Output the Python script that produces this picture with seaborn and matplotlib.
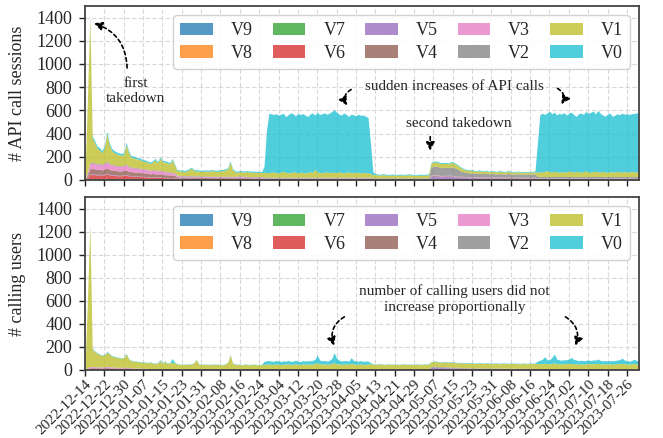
import matplotlib
matplotlib.use("Agg")
import matplotlib.pyplot as plt
import matplotlib.dates as mdates
import pandas as pd
import seaborn as sns

start_date = "2022-12-14"
last_tick_date = "2023-07-26"
n_days = 230
versions = ["V9", "V8", "V7", "V6", "V5", "V4", "V3", "V2", "V1", "V0"]

# ---------------- daily API call sessions (one value per day) ----------------
sess_v9 = [0,1,3,3,3,2,3,2,3,3, 2,2,3,2,2,2,3,2,2,2, 2,1,2,2,1,2,1,1,2,1, 1,2,1,1,1,1,1,1,1,1,
           1,0,1,1,1,0,1,1,1,1, 0,1,1,1,0,1,1,1,1,0, 1,1,1,1,0,1,1,1,1,1, 0,1,1,1,1,1,1,2,1,1,
           1,2,1,1,1,1,2,1,1,1, 1,2,1,1,1,1,1,2,1,1, 1,1,2,1,1,1,1,1,2,1, 1,1,1,2,1,1,1,1,2,1,
           1,1,0,1,1,1,1,0,1,1, 1,1,1,0,1,1,1,1,1,0, 1,1,1,1,2,2,2,1,2,2, 1,2,2,1,1,2,1,1,1,1,
           2,1,1,1,1,1,1,1,2,1, 1,1,1,1,1,2,1,1,1,1, 1,1,1,1,1,1,1,1,1,2, 1,1,1,1,1,2,1,1,1,1,
           1,1,2,1,1,1,1,1,1,2, 1,1,1,1,1,1,2,1,1,1, 1,1,2,1,1,1,1,1,2,1]
sess_v8 = [0,2,4,4,4,3,4,3,4,4, 3,3,4,3,3,3,4,3,3,3, 3,2,3,3,2,3,2,2,3,2, 2,3,2,2,2,2,2,2,2,1,
           2,1,1,2,1,1,2,1,1,1, 2,1,1,1,2,1,1,1,2,1, 1,1,2,1,1,1,1,2,1,1, 1,1,2,1,1,1,2,1,1,2,
           1,1,2,1,1,1,2,1,1,1, 2,1,1,1,2,1,1,1,1,2, 1,1,1,2,1,1,1,2,1,1, 1,2,1,1,1,2,1,1,1,1,
           1,1,1,1,1,1,1,1,1,1, 1,1,1,1,1,1,1,1,1,1, 1,1,1,2,3,3,3,2,3,5, 6,4,3,2,2,2,2,2,2,1,
           2,1,1,1,1,1,1,1,1,1, 1,1,1,1,1,1,1,1,1,1, 1,1,1,1,1,1,1,1,1,1, 1,1,1,2,1,1,1,1,2,1,
           1,1,1,1,2,1,1,1,1,1, 2,1,1,1,1,1,2,1,1,1, 1,1,2,1,1,1,1,1,2,1]
sess_v7 = [0,2,5,5,6,5,6,5,6,8, 6,5,5,4,4,5,4,6,5,4, 4,3,4,3,3,3,3,2,3,3, 2,3,2,2,2,2,2,2,2,2,
           2,2,2,2,2,2,2,2,2,2, 2,2,2,2,2,2,2,2,2,3, 3,3,4,6,8,6,4,3,3,2, 2,2,2,2,2,2,2,2,2,2,
           2,2,2,1,2,2,2,2,1,2, 2,2,1,2,2,2,2,2,2,1, 2,2,2,2,1,2,2,2,2,2, 1,2,2,2,2,2,1,2,2,2,
           2,2,1,2,2,2,2,1,2,2, 2,2,2,2,1,2,2,2,2,1, 2,2,2,2,2,3,2,2,2,2, 2,3,2,2,2,2,2,2,2,2,
           2,2,2,2,2,1,2,2,2,2, 2,2,1,2,2,2,2,2,1,2, 2,2,2,2,2,2,2,2,2,2, 2,1,2,2,2,2,1,2,2,2,
           2,2,2,1,2,2,2,2,2,1, 2,2,2,2,2,1,2,2,2,2, 2,2,1,2,2,2,2,2,1,2]
sess_v6 = [5,15,35,35,34,32,33,30,32,36, 33,30,30,28,27,27,28,30,26,25, 24,24,23,22,22,20,20,18,19,18,
           17,18,16,15,15,14,14,13,10,9, 9,8,8,9,8,8,7,8,7,7, 8,7,6,7,6,6,7,6,6,5, 6,6,5,5,5,6,5,5,5,5,
           4,5,5,4,4,3,3,3,3,3, 3,3,3,3,3,3,3,3,3,3, 3,3,3,3,3,3,3,3,3,3, 3,3,3,3,3,3,3,3,3,3,
           3,3,3,3,3,3,3,3,3,2, 2,2,2,2,2,2,2,2,2,2, 2,2,2,2,2,2,2,2,2,2, 2,2,2,4,5,5,5,4,4,4,
           4,4,4,3,3,3,3,3,3,3, 3,3,3,3,3,3,3,3,3,3, 3,3,3,3,3,3,3,3,3,3, 3,3,3,3,3,3,3,2,2,2,
           2,2,2,2,2,2,2,2,2,2, 2,2,2,2,2,2,2,2,2,2, 2,2,2,2,2,2,2,2,2,2, 2,2,2,2,2,2,2,2,2,2]
sess_v5 = [1,3,6,6,6,5,6,5,6,6, 5,5,5,5,5,4,5,5,4,4, 4,4,4,4,4,3,4,3,3,3, 3,3,3,3,3,3,3,3,3,3,
           3,2,3,3,2,3,3,2,3,3, 2,3,3,2,3,3,2,3,3,2, 3,3,2,3,3,2,3,3,2,3, 3,2,3,3,3,3,3,3,3,3,
           3,3,3,3,3,3,3,3,3,3, 3,3,3,3,3,3,3,3,3,3, 3,3,3,3,3,3,3,3,3,3, 3,3,3,3,3,3,3,3,3,2,
           2,2,2,2,2,2,2,2,2,2, 2,2,2,2,2,2,2,2,2,2, 2,2,2,20,22,21,20,19,20,18,
           19,20,18,17,16,15,14,13,14,13, 12,13,12,12,11,12,11,10,11,10, 10,11,10,10,9,10,9,9,10,9,
           9,8,9,9,8,8,9,6,5,6, 5,6,5,5,6,5,5,6,5,5, 6,5,5,6,5,5,5,6,5,5, 5,6,5,5,6,5,5,5,6,5,
           5,5,6,5,5,6,5,5,5,6]
sess_v4 = [2,20,45,45,44,42,43,40,44,48, 44,40,40,38,37,37,38,40,35,34, 33,33,32,30,30,28,28,26,27,26,
           25,26,24,22,22,21,20,18,10,9, 9,9,8,9,9,8,8,8,8,8, 8,7,7,8,7,7,7,7,7,7, 7,6,6,6,7,6,6,6,6,6,
           6,6,6,6,5,4,4,4,4,4, 4,4,4,4,4,4,4,4,4,4, 4,4,4,4,4,4,4,4,4,4, 4,4,4,4,4,4,4,4,4,4,
           4,4,4,4,4,4,4,4,4,3, 3,3,3,3,3,3,3,3,3,3, 3,3,3,3,3,3,3,3,3,3, 3,3,3,6,6,6,6,5,5,5,
           5,5,5,5,5,5,5,5,4,4, 4,4,4,4,4,4,4,4,4,4, 4,4,4,4,4,4,4,4,4,4, 4,4,4,4,4,4,4,3,3,3,
           3,3,3,3,3,3,3,3,3,3, 3,3,3,3,3,3,3,3,3,3, 3,3,3,3,3,3,3,3,3,3, 3,3,3,3,3,3,3,3,3,3]
sess_v3 = [2,20,45,46,45,44,45,42,46,50, 45,42,42,40,40,40,42,45,38,36, 35,34,33,32,31,30,29,28,29,28,
           27,28,26,24,24,22,20,18,10,10, 9,9,9,9,9,8,9,8,8,8, 8,8,8,8,8,8,8,8,8,7, 7,8,7,7,8,7,7,7,7,7,
           7,7,7,7,7,4,4,4,4,4, 4,4,4,4,4,4,4,4,4,4, 4,4,4,4,4,4,4,4,4,4, 4,4,4,4,4,4,4,4,4,4,
           4,4,4,4,4,4,4,4,4,3, 3,3,3,3,3,3,3,3,3,3, 3,3,3,3,3,3,3,3,3,3, 3,3,3,5,5,5,5,5,5,4,
           4,4,4,4,4,4,4,4,4,4, 4,4,4,4,4,4,4,4,4,4, 4,4,4,4,4,4,4,4,4,4, 4,4,4,4,4,4,4,3,3,3,
           3,3,3,3,3,3,3,3,3,3, 3,3,3,3,3,3,3,3,3,3, 3,3,3,3,3,3,3,3,3,3, 3,3,3,3,3,3,3,3,3,3]
sess_v2 = [1,3,7,7,7,6,7,6,7,8, 7,6,6,6,6,6,6,7,6,6, 6,5,5,5,5,5,5,5,5,5, 5,5,5,5,5,5,5,5,5,5,
           5,5,5,5,5,5,5,5,5,5, 5,5,5,5,5,5,5,5,5,5, 5,5,5,5,5,5,5,5,5,5, 5,5,5,5,5,6,6,6,6,6,
           6,6,6,6,6,6,6,6,6,6, 6,6,6,6,6,6,6,6,6,6, 6,6,6,6,6,6,6,6,6,6, 6,6,6,6,6,6,6,6,6,5,
           5,5,5,5,5,5,5,5,5,5, 5,5,5,5,5,5,5,5,5,5, 5,5,5,70,75,74,72,70,68,70,
           66,70,75,68,62,48,42,36,34,32, 34,30,30,32,29,30,32,28,29,30, 27,29,30,27,28,30,28,27,28,29,
           27,27,28,27,28,28,29,13,14,12, 13,12,14,13,12,13,14,12,13,13, 14,13,12,13,14,12,13,13,12,14,
           13,12,13,14,13,12,13,14,13,12, 13,14,12,13,13,12,14,13,12,13]
sess_v1 = [24,624,1250,209,170,135,114,103,131,237, 160,122,101,98,94,90,90,169,118,82,
           80,79,72,71,65,65,57,58,65,88, 66,98,79,79,74,68,107,69,37,38,
           36,35,40,50,65,44,42,41,38,43, 42,40,45,47,40,43,46,48,51,66,
           121,55,39,32,36,33,36,42,36,38, 35,37,35,34,40,40,38,42,45,40,
           36,44,50,42,38,40,46,42,38,44, 40,36,42,48,40,70,45,40,38,42,
           46,40,44,38,42,48,40,36,42,45, 40,38,44,40,36,42,38,40,30,26,
           28,26,23,27,25,22,23,26,23,21, 25,23,22,25,27,23,22,20,23,24,
           21,23,27,32,36,35,34,34,33,35, 32,35,38,34,32,28,25,22,20,20,
           22,18,18,22,18,18,20,16,18,20, 16,18,20,16,17,20,16,15,17,18,
           15,16,17,15,16,17,18,35,40,38, 45,50,42,38,44,40,36,42,38,40,
           46,42,38,44,40,36,42,48,40,36, 42,45,40,38,44,40,36,42,38,40,
           44,40,36,42,38,40,44,38,40,42]
sess_v0 = [5,10,20,20,20,20,18,18,18,20, 20,18,18,18,15,15,15,18,15,15,
           15,14,14,14,13,13,12,12,12,12, 12,12,12,12,12,12,12,10,10,9,
           10,11,10,9,10,10,11,10,9,10, 10,11,10,9,10,10,11,10,12,10,
           11,10,9,10,10,11,10,9,10,10, 11,10,9,10,50,365,512,503,495,507,
           499,499,500,481,502,515,499,488,513,497, 507,499,481,497,513,465,515,500,509,513,
           497,513,521,543,518,497,495,517,498,480, 505,499,486,503,497,493,489,475,265,25,
           8,7,8,9,8,7,8,9,8,7, 8,8,7,8,9,8,7,7,8,9,
           8,8,9,8,8,9,8,8,8,9, 8,8,9,8,8,7,7,7,6,6,
           7,6,6,7,6,6,7,6,6,6, 6,7,6,6,6,7,6,6,6,6,
           6,7,6,6,6,7,8,255,490,507, 490,500,518,502,511,490,509,496,512,490,
           496,513,497,474,500,512,493,512,505,516, 523,495,530,507,486,482,502,503,480,490,
           496,492,509,496,504,495,496,507,508,508]

# ---------------- daily calling users (one value per day) ----------------
users_v9 = [0,1,1,1,1,1,1,1,1,1, 1,1,1,1,1,1,1,1,1,1, 1,1,1,1,1,1,1,1,1,1, 1,1,1,1,1,1,1,1,1,0,
            1,0,1,1,0,1,1,0,1,1, 0,1,1,0,1,1,0,1,1,0, 1,1,0,1,1,0,1,1,0,1, 1,0,1,1,0,1,1,0,1,1,
            0,1,1,0,1,1,0,1,1,0, 1,1,0,1,1,0,1,1,0,1, 1,0,1,1,0,1,1,0,1,1, 0,1,1,0,1,1,0,1,1,0,
            1,1,0,1,1,0,1,1,0,1, 1,0,1,1,0,1,1,0,1,1, 0,1,1,1,1,1,1,1,1,1, 1,1,1,1,1,1,0,1,1,0,
            1,1,0,1,1,0,1,1,0,1, 1,0,1,1,0,1,1,0,1,1, 0,1,1,0,1,1,0,1,1,1, 1,1,0,1,1,0,1,1,0,1,
            1,0,1,1,0,1,1,0,1,1, 0,1,1,0,1,1,0,1,1,0, 1,1,0,1,1,0,1,1,0,1]
users_v8 = [0,1,1,1,1,1,1,1,1,1, 1,1,1,1,1,1,1,1,1,1, 1,1,1,1,1,1,1,1,1,1, 1,1,1,1,1,1,1,1,0,0,
            0,0,1,0,0,0,0,1,0,0, 0,0,0,1,0,0,0,0,1,0, 0,1,0,0,0,0,1,0,0,0, 0,0,0,1,0,0,0,0,0,1,
            0,0,0,0,1,0,0,0,0,0, 1,0,0,0,0,0,1,0,0,0, 0,0,1,0,0,0,0,0,1,0, 0,0,0,0,1,0,0,0,0,0,
            0,1,0,0,0,0,0,1,0,0, 0,0,0,0,1,0,0,0,0,0, 0,0,0,1,1,1,0,1,1,0, 1,0,0,0,1,0,0,0,0,1,
            0,0,0,0,1,0,0,0,0,0, 1,0,0,0,0,1,0,0,0,0, 0,0,1,0,0,0,0,1,0,0, 0,0,0,0,1,0,0,0,0,1,
            0,0,0,1,0,0,0,0,1,0, 0,1,0,0,0,0,1,0,0,0, 0,0,0,1,0,0,0,0,1,0]
users_v7 = [0,1,2,2,2,2,2,2,2,3, 2,2,2,2,2,2,2,2,2,2, 1,1,1,1,1,1,1,1,1,1, 1,1,1,1,1,1,1,1,1,1,
            1,1,1,1,1,1,1,1,1,1, 1,1,1,1,1,1,1,1,1,1, 1,1,1,1,1,1,1,1,1,1, 1,1,1,1,1,1,1,1,1,1,
            1,1,1,1,1,1,1,1,1,1, 1,1,1,1,1,1,1,1,1,1, 1,1,1,1,1,1,1,1,1,1, 1,1,1,1,1,1,1,1,1,1,
            1,1,1,1,1,1,1,1,1,1, 1,1,1,1,1,1,1,1,1,1, 1,1,1,1,1,1,1,1,1,1, 1,1,1,1,1,1,1,1,1,1,
            1,1,1,1,1,1,1,1,1,1, 1,1,1,1,1,1,1,1,1,1, 1,1,1,1,1,1,1,1,1,1, 1,1,1,1,1,1,1,1,1,1,
            1,1,1,1,1,1,1,1,1,1, 1,1,1,1,1,1,1,1,1,1, 1,1,1,1,1,1,1,1,1,1]
users_v6 = [1,5,10,10,10,9,9,8,9,10, 9,8,8,7,7,7,7,8,6,6, 5,5,5,4,4,4,4,3,3,3, 3,3,3,3,2,2,2,2,2,2,
            2,2,2,2,2,2,2,2,2,2, 2,2,2,2,2,2,2,2,2,2, 2,2,2,2,2,2,2,2,2,2, 2,2,2,2,2,1,1,1,1,1,
            1,1,1,1,1,1,1,1,1,1, 1,1,1,1,1,1,1,1,1,1, 1,1,1,1,1,1,1,1,1,1, 1,1,1,1,1,1,1,1,1,1,
            1,1,1,1,1,1,1,1,1,1, 1,1,1,1,1,1,1,1,1,1, 1,1,1,1,1,1,1,1,1,1, 1,1,1,1,1,1,1,1,1,1,
            1,1,1,1,1,1,1,1,1,1, 1,1,1,1,1,1,1,1,1,1, 1,1,1,1,1,1,1,1,1,1, 1,1,1,1,1,1,1,1,1,1,
            1,1,1,1,1,1,1,1,1,1, 1,1,1,1,1,1,1,1,1,1, 1,1,1,1,1,1,1,1,1,1]
users_v5 = [0,1,1,1,1,1,1,1,1,1, 1,1,1,1,1,1,1,1,1,1, 1,1,1,1,1,1,1,1,1,1, 1,1,1,1,1,1,1,1,1,1,
            1,1,1,1,1,1,1,1,1,1, 1,1,1,1,1,1,1,1,1,1, 1,1,1,1,1,1,1,1,1,1, 1,1,1,1,1,1,1,1,1,1,
            1,1,1,1,1,1,1,1,1,1, 1,1,1,1,1,1,1,1,1,1, 1,1,1,1,1,1,1,1,1,1, 1,1,1,1,1,1,1,1,1,1,
            1,1,1,1,1,1,1,1,1,1, 1,1,1,1,1,1,1,1,1,1, 1,1,1,18,20,19,18,17,18,16,
            17,16,15,14,13,12,12,11,11,10, 10,10,9,9,9,9,8,8,8,8, 8,8,7,7,7,7,7,7,7,7,
            6,6,6,6,6,6,6,2,2,2, 2,2,2,2,2,2,2,2,2,2, 2,2,2,2,2,2,2,2,2,2, 2,2,2,2,2,2,2,2,2,2,
            2,2,2,2,2,2,2,2,2,2]
users_v4 = [1,3,5,5,5,5,5,5,5,6, 5,5,5,4,4,4,4,5,4,4, 3,3,3,3,3,3,2,2,2,2, 2,2,2,2,2,2,2,2,1,1,
            1,1,1,1,1,1,1,1,1,1, 1,1,1,1,1,1,1,1,1,1, 1,1,1,1,1,1,1,1,1,1, 1,1,1,1,1,1,0,1,1,0,
            1,1,0,1,1,0,1,1,0,1, 1,0,1,1,0,1,1,0,1,1, 0,1,1,0,1,1,0,1,1,0, 1,1,0,1,1,0,1,1,0,1,
            1,0,1,1,0,1,1,0,1,1, 0,1,1,0,1,1,0,1,1,0, 1,1,0,1,1,1,1,1,1,1, 1,1,1,1,1,1,1,1,1,1,
            1,1,1,1,1,1,1,1,1,1, 1,1,1,1,1,1,1,1,1,1, 1,1,1,1,1,1,1,1,1,1, 1,1,1,1,1,1,1,1,1,1,
            1,1,1,1,1,1,1,1,1,1, 1,1,1,1,1,1,1,1,1,1, 1,1,1,1,1,1,1,1,1,1]
users_v3 = [1,4,8,8,8,7,7,7,7,8, 7,7,6,6,6,6,6,7,5,5, 5,4,4,4,4,3,3,3,3,3, 3,3,3,3,2,2,2,2,2,2,
            2,1,2,1,2,1,2,1,2,1, 2,1,2,1,2,1,2,1,2,1, 2,1,2,1,2,1,2,1,2,1, 1,1,1,1,1,1,1,1,1,1,
            1,1,1,1,1,1,1,1,1,1, 1,1,1,1,1,1,1,1,1,1, 1,1,1,1,1,1,1,1,1,1, 1,1,1,1,1,1,1,1,1,1,
            1,1,1,1,1,1,1,1,1,1, 1,1,1,1,1,1,1,1,1,1, 1,1,1,1,1,1,1,1,1,1, 1,1,1,1,1,1,1,1,1,1,
            1,1,1,1,1,1,1,1,1,1, 1,1,1,1,1,1,1,1,1,1, 1,1,1,1,1,1,1,1,1,1, 1,1,1,1,1,1,1,1,1,1,
            1,1,1,1,1,1,1,1,1,1, 1,1,1,1,1,1,1,1,1,1, 1,1,1,1,1,1,1,1,1,1]
users_v2 = [0,1,2,2,2,2,2,2,2,2, 2,2,2,2,2,2,2,2,1,1, 1,1,1,1,1,1,1,1,1,1, 1,1,1,1,1,1,1,1,1,1,
            1,1,1,1,1,1,1,1,1,1, 1,1,1,1,1,1,1,1,1,1, 1,1,1,1,1,1,1,1,1,1, 1,1,1,1,1,1,1,1,1,1,
            1,1,1,1,1,1,1,1,1,1, 1,1,1,1,1,1,1,1,1,1, 1,1,1,1,1,1,1,1,1,1, 1,1,1,1,1,1,1,1,1,1,
            1,1,1,1,1,1,1,1,1,1, 1,1,1,1,1,1,1,1,1,1, 1,1,1,6,7,7,6,6,6,6, 5,5,5,5,5,5,4,4,4,4,
            4,4,4,4,4,4,4,4,4,4, 4,4,4,4,4,4,4,4,4,4, 4,4,4,4,4,4,4,1,1,1, 1,1,1,1,1,1,1,1,1,1,
            1,1,1,1,1,1,1,1,1,1, 1,1,1,1,1,1,1,1,1,1, 1,1,1,1,1,1,1,1,1,1]
users_v1 = [15,579,1222,154,129,117,107,98,102,122, 112,93,89,86,82,77,82,113,75,60,
            58,57,54,52,50,49,48,53,45,43, 48,69,45,61,45,50,54,51,44,41,
            39,41,39,41,43,54,81,44,41,39, 41,39,37,41,39,41,39,37,41,59,
            123,49,41,39,39,37,41,39,37,39, 41,37,39,37,42,46,45,44,42,46,
            44,40,45,44,46,42,44,46,44,42, 45,44,46,44,46,50,55,48,45,46,
            44,46,50,55,48,46,44,45,46,44, 52,46,44,44,46,42,44,44,50,44,
            42,43,45,42,40,44,43,41,44,42, 40,43,45,42,41,40,43,44,42,40,
            43,42,44,38,40,42,40,38,40,42, 38,40,42,40,38,40,42,38,40,42,
            40,38,40,42,38,40,44,40,38,40, 42,38,40,42,40,38,40,42,40,38,
            40,42,38,40,42,40,44,46,48,46, 50,48,46,50,52,48,46,46,48,46,
            50,48,46,46,44,46,44,46,48,46, 48,46,50,46,44,46,44,46,44,46,
            48,46,50,46,44,44,46,48,44,46]
users_v0 = [2,4,8,6,6,5,5,5,5,6, 5,5,5,5,4,4,4,5,4,4, 4,4,4,4,4,4,4,4,4,4,
            4,8,4,6,4,4,35,8,3,3, 3,3,3,3,4,3,3,3,3,3, 3,3,3,3,3,3,3,3,3,3,
            4,3,3,3,3,3,3,3,3,3, 3,3,3,3,25,28,31,27,26,30,
            28,26,29,26,30,26,28,32,26,24, 29,27,30,28,32,36,66,33,29,30,
            27,32,41,91,48,32,28,29,30,26, 49,30,28,26,28,26,28,26,8,4,
            3,3,4,3,3,4,3,3,4,3, 3,4,3,3,4,3,3,4,3,3, 4,3,4,4,4,5,4,4,4,5,
            4,4,5,4,4,4,4,5,4,4, 4,4,4,5,4,4,4,4,5,4, 4,4,4,4,5,4,4,4,4,5,
            4,4,4,5,4,4,4,21,29,38, 57,34,34,52,78,39,34,31,34,34,
            37,54,38,32,30,31,28,30,30,28, 32,31,37,30,28,28,26,28,28,30,
            30,36,45,31,28,26,28,39,28,36]

sessions = [sess_v9, sess_v8, sess_v7, sess_v6, sess_v5, sess_v4, sess_v3, sess_v2, sess_v1, sess_v0]
users = [users_v9, users_v8, users_v7, users_v6, users_v5, users_v4, users_v3, users_v2, users_v1, users_v0]
for name, grp in (("sessions", sessions), ("users", users)):
    for v, s in zip(versions, grp):
        if len(s) != n_days:
            raise ValueError(f"{name} {v} has {len(s)} values")

# ---------------- style ----------------
sns.set_theme(style="whitegrid")
plt.rcParams["font.family"] = ["Liberation Serif", "DejaVu Serif"]
palette = sns.color_palette("tab10", 10)

dates = pd.date_range(start_date, periods=n_days, freq="D")
tick_dates = pd.date_range(start_date, last_tick_date, freq="8D")
t0 = mdates.date2num(pd.Timestamp(start_date))


def dx(day):
    return t0 + day


fig = plt.figure(figsize=(6.63, 4.38), dpi=100)
W, H = 663.0, 438.0
ax1 = fig.add_axes([85 / W, 1 - 180 / H, (639 - 85) / W, (180 - 6) / H])
ax2 = fig.add_axes([85 / W, 1 - 370 / H, (639 - 85) / W, (370 - 197) / H], sharex=ax1)

for ax, grp, ylab in ((ax1, sessions, "# API call sessions"), (ax2, users, "# calling users")):
    ax.stackplot(dates, *grp, labels=versions, colors=palette, alpha=0.75, linewidth=0)
    ax.set_ylim(0, 1500)
    ax.set_yticks(range(0, 1401, 200))
    ax.set_xlim(dates[0], dates[-1])
    ax.set_xticks(tick_dates)
    ax.set_ylabel(ylab, fontsize=13, labelpad=8)
    ax.grid(True, color="#d8d8d8", linestyle=(0, (4, 2)), linewidth=0.8)
    ax.set_axisbelow(True)
    for sp in ax.spines.values():
        sp.set_color("#444444")
        sp.set_linewidth(1.3)
    ax.tick_params(axis="both", which="major", direction="out", length=4, width=1,
                   color="#222222", bottom=True, left=True, labelsize=13)
    ax.tick_params(axis="y", pad=5)
    ax.tick_params(axis="x", pad=1.5)
    ax.legend(loc="upper right", ncol=5, fontsize=13, handlelength=1.8,
              handleheight=0.7, handletextpad=1.0, columnspacing=1.1,
              labelspacing=0.3, borderpad=0.4, borderaxespad=0.5,
              frameon=True, fancybox=True, framealpha=0.9, edgecolor="#cccccc")

ax1.tick_params(labelbottom=False)
ax2.set_xticklabels([d.strftime("%Y-%m-%d") for d in tick_dates], rotation=45,
                    ha="right", rotation_mode="anchor", fontsize=11)

arrow_kw = dict(arrowstyle="-|>,head_length=0.5,head_width=0.25", color="black",
                lw=1.2, linestyle=(0, (2.2, 1.8)), mutation_scale=10,
                shrinkA=0, shrinkB=0)

# annotations in the sessions panel
ax1.text(dx(21), 763, "first\ntakedown", ha="center", va="center", fontsize=11)
ax1.annotate("", xy=(dx(3.7), 1351), xytext=(dx(17.4), 966),
             arrowprops=dict(connectionstyle="arc3,rad=0.35", **arrow_kw))
ax1.text(dx(152.7), 810, "sudden increases of API calls", ha="center", va="center", fontsize=11)
ax1.annotate("", xy=(dx(108.4), 642), xytext=(dx(110.0), 780),
             arrowprops=dict(connectionstyle="arc3,rad=0.5", **arrow_kw))
ax1.annotate("", xy=(dx(196.9), 652), xytext=(dx(195.3), 790),
             arrowprops=dict(connectionstyle="arc3,rad=-0.5", **arrow_kw))
ax1.text(dx(154.7), 489, "second takedown", ha="center", va="center", fontsize=11)
ax1.annotate("", xy=(dx(142.7), 252), xytext=(dx(142.7), 374),
             arrowprops=dict(connectionstyle="arc3,rad=0", **arrow_kw))

# annotations in the users panel
ax2.text(dx(152.7), 616, "number of calling users did not\nincrease proportionally",
         ha="center", va="center", fontsize=11, linespacing=1.35)
ax2.annotate("", xy=(dx(103.0), 210), xytext=(dx(107.2), 461),
             arrowprops=dict(connectionstyle="arc3,rad=0.4", **arrow_kw))
ax2.annotate("", xy=(dx(202.7), 210), xytext=(dx(198.6), 461),
             arrowprops=dict(connectionstyle="arc3,rad=-0.4", **arrow_kw))

fig.savefig("out.png", dpi=100)
